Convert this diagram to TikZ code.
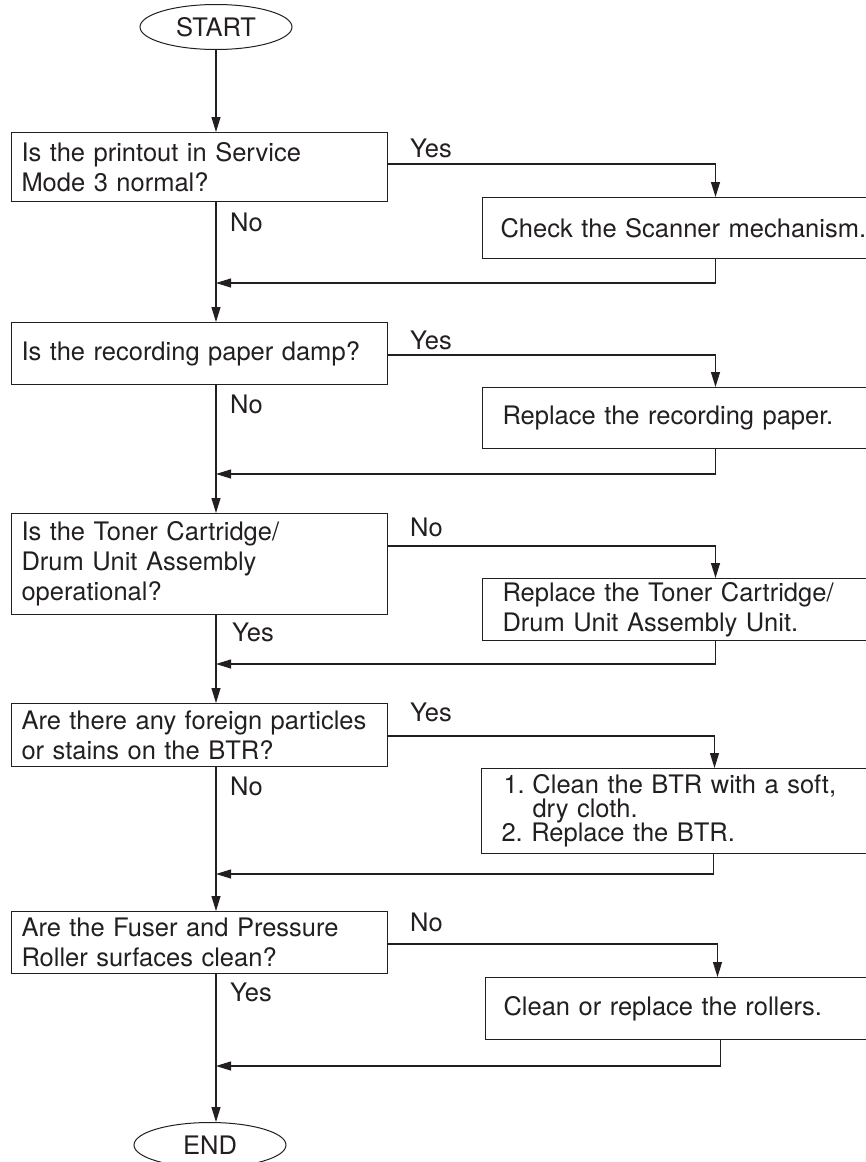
\documentclass[tikz,border=0pt]{standalone}
\usepackage{fontspec}
\setmainfont{TeX Gyre Heros}
\usetikzlibrary{shapes.geometric,arrows.meta,calc}
\definecolor{ink}{HTML}{231F20}
\begin{document}
\begin{tikzpicture}[x=1pt,y=-1pt,
  every node/.style={text=ink,font=\fontsize{25.5}{30}\selectfont},
  flow/.style={draw=ink,line width=1.1pt,-{Triangle[length=15pt,width=9pt]}},
  wire/.style={draw=ink,line width=1.1pt},
  terminal/.style={ellipse,draw=ink,line width=1pt,minimum width=152pt,minimum height=45pt,inner sep=0pt},
  question/.style={rectangle,draw=ink,line width=1pt,anchor=north west,minimum width=376pt,
    inner xsep=10pt,inner ysep=0pt,text width=356pt,align=left},
  action/.style={rectangle,draw=ink,line width=1pt,anchor=north west,minimum width=466pt,
    inner xsep=18pt,inner ysep=0pt,text width=430pt,align=left},
  answer/.style={anchor=west,inner sep=0pt}
]
\useasboundingbox (0,0) rectangle (865,1162);

% terminals
\node[terminal] (start) at (216,27) {START};
\node[terminal] (end) at (210,1145) {END};

% decisions (left column) and actions (right column)
\node[question,minimum height=69pt] (q1) at (11,132) {Is the printout in Service\\Mode 3 normal?};
\node[action,minimum height=61pt] (a1) at (482,197) {Check the Scanner mechanism.};

\node[question,minimum height=62pt] (q2) at (11,322) {Is the recording paper damp?};
\node[action,minimum height=61pt] (a2) at (482,387) {\hspace*{2pt}Replace the recording paper.};

\node[question,minimum height=101pt] (q3) at (11,513) {Is the Toner Cartridge/\\Drum Unit Assembly\\operational?};
\node[action,minimum height=62pt] (a3) at (482,578) {\hspace*{2pt}Replace the Toner Cartridge/\\\hspace*{2pt}Drum Unit Assembly Unit.};

\node[question,minimum height=63pt] (q4) at (11,703) {Are there any foreign particles\\or stains on the BTR?};
\node[action,minimum height=85pt,font={\fontsize{25.5}{24}\selectfont\lineskiplimit=-20pt}] (a4) at (481,768)
  {\hspace*{4pt}\makebox[29pt][l]{1.}Clean the BTR with a soft,\\\hspace*{33pt}dry cloth.\\\hspace*{2pt}2.\ Replace the BTR.};

\node[question,minimum height=62pt] (q5) at (11,911) {Are the Fuser and Pressure\\Roller surfaces clean?};
\node[action,minimum height=62pt,minimum width=464pt,text width=428pt] (a5) at (485,977) {Clean or replace the rollers.};

% junctions on the main line
\coordinate (j1) at (216,283);
\coordinate (j2) at (216,474);
\coordinate (j3) at (216,664);
\coordinate (j4) at (216,874);
\coordinate (j5) at (216,1066);

% main line
\draw[flow] (start.south) -- (start.south |- q1.north);
\draw[flow] (q1.south -| j1) -- (q2.north -| j1);
\draw[flow] (q2.south -| j2) -- (q3.north -| j2);
\draw[flow] (q3.south -| j3) -- (q4.north -| j3);
\draw[flow] (q4.south -| j4) -- (q5.north -| j4);
\draw[flow] (q5.south -| j5) -- (j5 |- end.north);

% branches out to the actions
\draw[flow] ($(q1.north east)+(0,32)$) -| (a1.north);
\draw[flow] ($(q2.north east)+(0,33)$) -| (a2.north);
\draw[flow] ($(q3.north east)+(0,33)$) -| (a3.north);
\draw[flow] ($(q4.north east)+(0,33)$) -| (a4.north);
\draw[flow] ($(q5.north east)+(0,33)$) -| (a5.north);

% returns to the main line
\draw[flow] (a1.south) |- (j1);
\draw[flow] (a2.south) |- (j2);
\draw[flow] (a3.south) |- (j3);
\draw[flow] ([xshift=-1pt]a4.south) |- (j4);
\draw[flow] ([xshift=3pt]a5.south) |- (j5);

% answers
\node[answer] (y1) at (410,148) {Yes};
\node[answer] (n1) at (230,222) {No};
\node[answer] (y2) at (410,340) {Yes};
\node[answer] (n2) at (230,404) {No};
\node[answer] (n3) at (410,527) {No};
\node[answer] (y3) at (232,632) {Yes};
\node[answer] (y4) at (410,712) {Yes};
\node[answer] (n4) at (230,786) {No};
\node[answer] (n5) at (410,922) {No};
\node[answer] (y5) at (230,992) {Yes};
\end{tikzpicture}
\end{document}
